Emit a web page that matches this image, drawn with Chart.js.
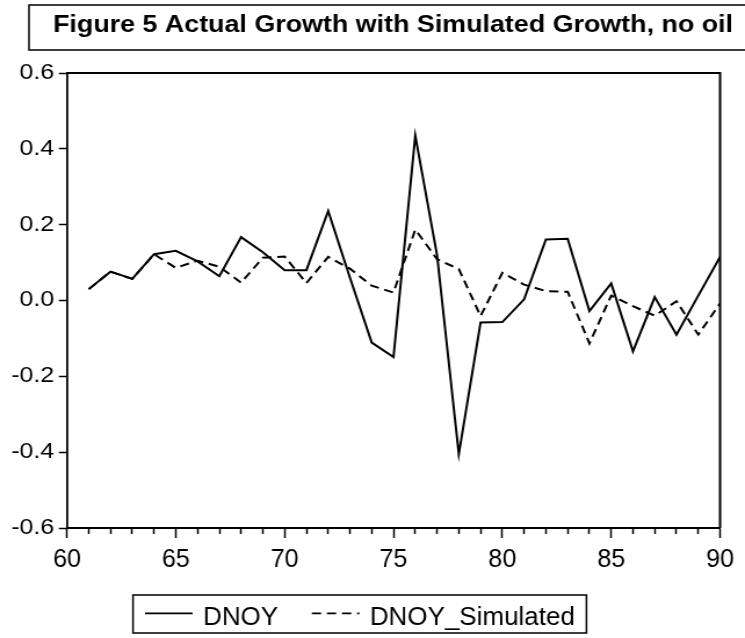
<!DOCTYPE html>
<html>
<head>
<meta charset="utf-8">
<script src="https://cdn.jsdelivr.net/npm/chart.js@4.4.0/dist/chart.umd.min.js"></script>
<style>
  body { margin: 0; background: #fff; overflow: hidden; }
  /* original graph is stretched sideways, so draw narrower and widen it */
  #wrap { width: 642px; height: 638px; transform: scaleX(1.1604); transform-origin: 0 0; }
</style>
</head>
<body>
<div id="wrap"><canvas id="growth-chart"></canvas></div>
<script>
// Years (19xx)
const years = [61, 62, 63, 64, 65, 66, 67, 68, 69, 70, 71, 72, 73, 74, 75,
               76, 77, 78, 79, 80, 81, 82, 83, 84, 85, 86, 87, 88, 89, 90];

// Actual growth
const dnoy = [0.030, 0.076, 0.057, 0.122, 0.131, 0.103, 0.064, 0.167, 0.127, 0.080,
              0.080, 0.236, 0.060, -0.111, -0.149, 0.435, 0.120, -0.405, -0.058, -0.057,
              0.003, 0.161, 0.163, -0.028, 0.045, -0.134, 0.009, -0.090, 0.013, 0.115];

// Simulated growth
const dnoySimulated = [0.030, 0.076, 0.057, 0.122, 0.086, 0.105, 0.089, 0.047, 0.113, 0.116,
                       0.046, 0.115, 0.084, 0.039, 0.021, 0.187, 0.109, 0.083, -0.041, 0.073,
                       0.042, 0.025, 0.023, -0.113, 0.013, -0.015, -0.040, -0.002, -0.090, -0.008];

const yTicks = [-0.6, -0.4, -0.2, 0.0, 0.2, 0.4, 0.6];
const titleText = "Figure 5 Actual Growth with Simulated Growth, no oil";
const fontName = '"Liberation Sans", Arial, sans-serif';

const toPoints = (vals) => vals.map((v, i) => ({ x: years[i], y: v }));

// Title box, frame, x labels and legend box
const extrasPlugin = {
  id: "extras",
  afterDraw(chart) {
    const ctx = chart.ctx;
    const area = chart.chartArea;
    ctx.save();
    ctx.strokeStyle = "#000";
    ctx.fillStyle = "#000";

    // top + right side of the plot frame
    ctx.lineWidth = 2;
    ctx.beginPath();
    ctx.moveTo(area.left, area.top);
    ctx.lineTo(area.right, area.top);
    ctx.lineTo(area.right, area.bottom);
    ctx.stroke();

    // title box
    ctx.lineWidth = 1.5;
    ctx.strokeRect(25, 5, 700, 45);
    ctx.font = "bold 23px " + fontName;
    ctx.textBaseline = "alphabetic";
    ctx.textAlign = "left";
    const tw = ctx.measureText(titleText).width;
    ctx.save();
    ctx.translate(45.7, 32);
    ctx.scale(586 / tw, 1);
    ctx.fillText(titleText, 0, 0);
    ctx.restore();

    // x tick labels (taller than wide in the original)
    const xScale = chart.scales.x;
    ctx.font = "21.7px " + fontName;
    ctx.textAlign = "center";
    xScale.ticks.forEach((t) => {
      if (t.value % 5 !== 0) return;
      ctx.save();
      ctx.translate(xScale.getPixelForValue(t.value), area.bottom + 38.5);
      ctx.scale(1, 1.18);
      ctx.fillText(String(t.value), 0, 0);
      ctx.restore();
    });

    // legend
    const lineY = 613.3;
    let x = 125;
    ctx.textAlign = "left";
    ctx.font = "22.4px " + fontName;
    chart.data.datasets.forEach((ds) => {
      ctx.lineWidth = 1.8;
      ctx.setLineDash(ds.borderDash || []);
      ctx.beginPath();
      ctx.moveTo(x, lineY);
      ctx.lineTo(x + 41, lineY);
      ctx.stroke();
      ctx.setLineDash([]);
      ctx.save();
      ctx.translate(x + 50, 625);
      ctx.scale(1, 1.18);
      ctx.fillText(ds.label, 0, 0);
      ctx.restore();
      x += 50 + ctx.measureText(ds.label).width + 29;
    });
    ctx.lineWidth = 1.5;
    ctx.strokeRect(114.6, 595, x - 29 + 10 - 114.6, 38);
    ctx.restore();
  },
};

const ctx = document.getElementById("growth-chart").getContext("2d");
new Chart(ctx, {
  type: "line",
  data: {
    datasets: [
      {
        label: "DNOY",
        data: toPoints(dnoy),
        borderColor: "#000",
        borderWidth: 2,
        pointRadius: 0,
        tension: 0,
      },
      {
        label: "DNOY_Simulated",
        data: toPoints(dnoySimulated),
        borderColor: "#000",
        borderWidth: 2,
        borderDash: [8, 5],
        pointRadius: 0,
        tension: 0,
      },
    ],
  },
  options: {
    responsive: true,
    maintainAspectRatio: false,
    animation: false,
    layout: { padding: { left: 0, right: 21.5, top: 73, bottom: 70 } },
    plugins: {
      legend: { display: false },
      title: { display: false },
      tooltip: { enabled: false },
    },
    scales: {
      x: {
        type: "linear",
        min: 60,
        max: 90,
        afterFit: (scale) => { scale.height = 40; },
        ticks: { stepSize: 1, autoSkip: false, display: false },
        grid: {
          drawOnChartArea: false,
          tickLength: 10,
          tickWidth: 1.5,
          tickColor: "#000",
          // short minor ticks every year, long ticks every 5
          tickBorderDash: (c) => (c.tick && c.tick.value % 5 !== 0 ? [5, 30] : []),
        },
        border: { display: true, color: "#000", width: 2 },
      },
      y: {
        min: -0.6,
        max: 0.6,
        afterFit: (scale) => { scale.width = 57.7; },
        afterBuildTicks: (scale) => { scale.ticks = yTicks.map((v) => ({ value: v })); },
        ticks: {
          padding: 4,
          color: "#000",
          font: { family: fontName, size: 21.5 },
          callback: (v) => (Math.abs(v) < 1e-9 ? "0.0" : Number(v).toFixed(1)),
        },
        grid: {
          drawOnChartArea: false,
          tickLength: 7,
          tickWidth: 1.5,
          tickColor: "#000",
        },
        border: { display: true, color: "#000", width: 1.8 },
      },
    },
  },
  plugins: [extrasPlugin],
});
</script>
</body>
</html>
